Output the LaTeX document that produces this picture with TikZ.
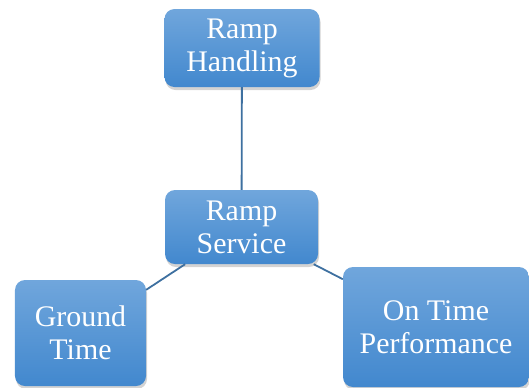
\documentclass[tikz,border=0pt]{standalone}
\usepackage{fontspec}
\setmainfont{Liberation Serif}
\usetikzlibrary{shadows}
\definecolor{boxtop}{RGB}{112,166,220}
\definecolor{boxbot}{RGB}{66,136,206}
\definecolor{linkc}{RGB}{62,112,160}
\begin{document}
\begin{tikzpicture}[x=1bp,y=-1bp,
  box/.style={rounded corners=10bp, top color=boxtop, bottom color=boxbot, draw=none,
    text=white, align=center, font=\fontsize{30}{33}\selectfont, inner sep=0pt,
    drop shadow={opacity=0.35, shadow xshift=1bp, shadow yshift=-3bp}},
  link/.style={draw=linkc, line width=1.8bp}]
\useasboundingbox (0,0) rectangle (529,387);
\node[box, minimum width=155bp, minimum height=78bp] (rh) at (242,48) {Ramp\\Handling};
\node[box, minimum width=153bp, minimum height=74bp] (rs) at (241.5,227) {Ramp\\Service};
\node[box, minimum width=131bp, minimum height=106bp] (gt) at (80.5,333) {Ground\\Time};
\node[box, minimum width=186bp, minimum height=120bp] (otp) at (436,327) {On Time\\Performance};
\begin{scope}[on background layer/.style={}]
\end{scope}
\draw[link] (rh) -- (rs);
\draw[link] (rs) -- (gt);
\draw[link] (rs) -- (otp);
\end{tikzpicture}
\end{document}
